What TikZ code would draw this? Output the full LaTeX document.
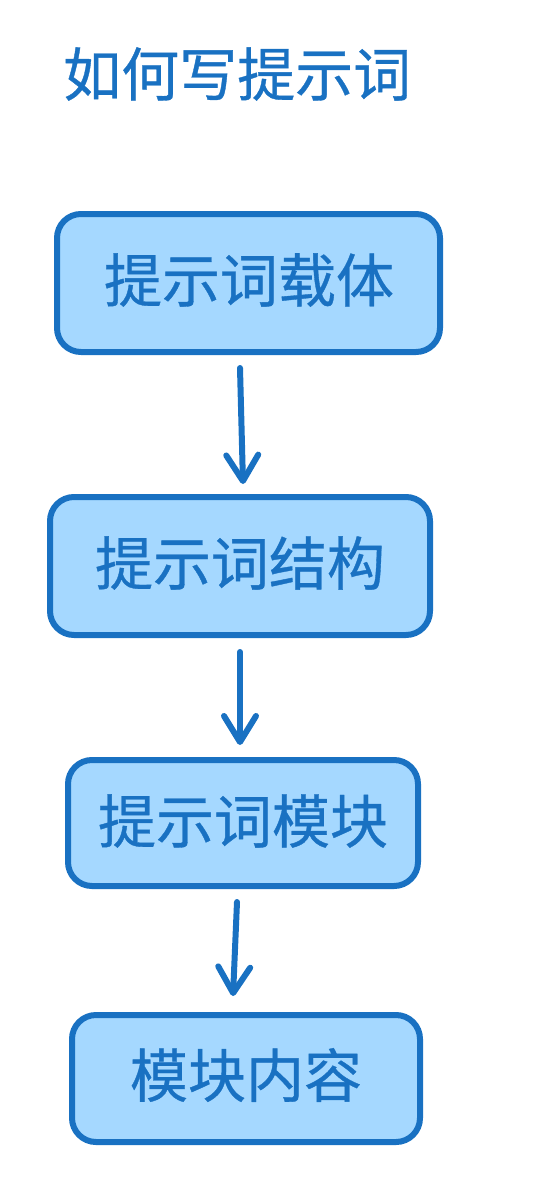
\documentclass[tikz,border=0pt]{standalone}
\usepackage{fontspec}
\newfontfamily\cjk[FakeBold=0.6]{Noto Sans CJK SC}
\usetikzlibrary{arrows.meta}
\definecolor{strokeblue}{HTML}{1971C2}
\definecolor{fillblue}{HTML}{A5D8FF}
\tikzset{
  stepbox/.style={draw=strokeblue, fill=fillblue, line width=6pt, rounded corners=24pt},
  label/.style={text=strokeblue, font=\cjk\fontsize{58}{62}\selectfont, inner sep=0pt},
  flow/.style={draw=strokeblue, line width=6pt, line cap=round, line join=round,
    -{Straight Barb[length=26pt, width=32pt, line width=6pt, round]}},
}
\begin{document}
\begin{tikzpicture}[x=1pt, y=-1pt]
  \useasboundingbox (0,0) rectangle (538,1194);
  % title
  \node[label, anchor=west] (title) at (63,74) {如何写提示词};
  % steps
  \draw[stepbox] (57,214) rectangle (440,352);
  \node[label] (s1) at (249,280) {提示词载体};
  \draw[stepbox] (50,497) rectangle (430,635);
  \node[label] (s2) at (240,563) {提示词结构};
  \draw[stepbox] (68,760) rectangle (418,886);
  \node[label] (s3) at (243,821) {提示词模块};
  \draw[stepbox] (72,1015) rectangle (420,1142);
  \node[label] (s4) at (246,1075) {模块内容};
  % connectors
  \coordinate (a1) at (240,368); \coordinate (b1) at (243,484);
  \coordinate (a2) at (240,652); \coordinate (b2) at (240,745);
  \coordinate (a3) at (237,902); \coordinate (b3) at (233,996);
  \draw[flow] (a1) -- (b1);
  \draw[flow] (a2) -- (b2);
  \draw[flow] (a3) -- (b3);
\end{tikzpicture}
\end{document}
